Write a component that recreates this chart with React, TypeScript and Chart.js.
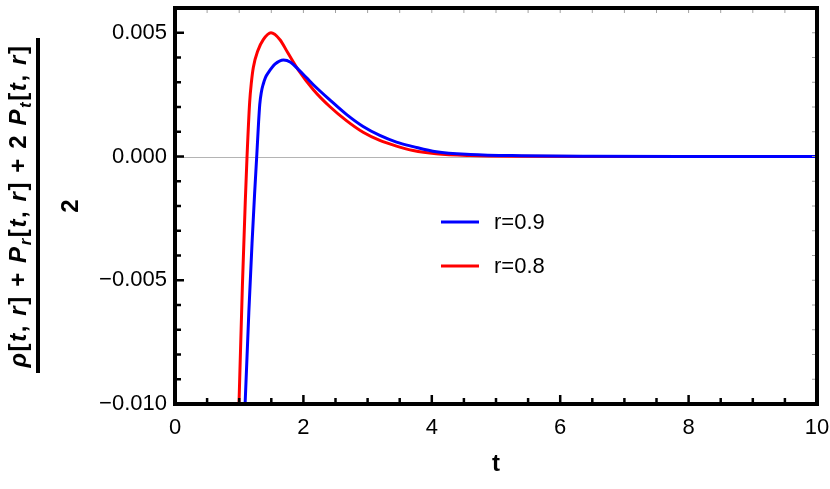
import React, { useEffect, useRef } from 'react';
import { Chart, registerables } from 'chart.js';

Chart.register(...registerables);

// ---- data ----
const seriesLabels = ['r=0.9', 'r=0.8'];
const seriesColors = ['#0000ff', '#ff0000'];

const tBlue = [1.055, 1.095, 1.15, 1.2, 1.24, 1.275, 1.3, 1.32, 1.345, 1.375, 1.41, 1.454, 1.557, 1.69, 1.8, 1.92, 2.05, 2.155, 2.41, 2.67, 2.93, 3.19, 3.45, 3.71, 4.07, 4.6, 5.4, 6.5, 8, 10];
const vBlue = [-0.0125, -0.0098, -0.0063, -0.0035, -0.0015, 0.0001, 0.0013, 0.0021, 0.0026, 0.00293, 0.0032, 0.00339, 0.00373, 0.0039, 0.00381, 0.00352, 0.00318, 0.0029, 0.00229, 0.0017, 0.00121, 0.00085, 0.00058, 0.0004, 0.00019, 0.00008, 0.00003, 0.00001, 0.000002, 0];

const tRed = [0.97, 1.0, 1.05, 1.095, 1.122, 1.163, 1.19, 1.22, 1.29, 1.375, 1.495, 1.635, 1.755, 1.92, 2.155, 2.41, 2.67, 2.93, 3.19, 3.45, 3.71, 4.07, 4.6, 5.4, 6.5, 8, 10];
const vRed = [-0.0125, -0.0097, -0.0052, -0.0018, 0, 0.0022, 0.003, 0.0036, 0.00427, 0.00472, 0.005, 0.00472, 0.0042, 0.0035, 0.0027, 0.00202, 0.00145, 0.00098, 0.00065, 0.00042, 0.00024, 0.00011, 0.00004, 0.00001, 0.000003, 0.0000005, 0];

const xTicks = [0, 2, 4, 6, 8, 10];
const yTicks = [-0.01, -0.005, 0, 0.005];
const X_MIN = 0, X_MAX = 10, Y_MIN = -0.01, Y_MAX = 0.006;
const X_MINOR = 0.5, Y_MINOR = 0.001;

const FONT = "'Liberation Sans', Arial, sans-serif";

const toPoints = (ts: number[], vs: number[]) => ts.map((t, i) => ({ x: t, y: vs[i] }));

const framePlugin = {
  id: 'mmaFrame',
  beforeDatasetsDraw(chart: any) {
    const { ctx, chartArea: a, scales } = chart;
    const y0 = Math.round(scales.y.getPixelForValue(0)) + 0.5;
    ctx.save();
    ctx.strokeStyle = '#b4b4b4';
    ctx.lineWidth = 1;
    ctx.beginPath();
    ctx.moveTo(a.left, y0);
    ctx.lineTo(a.right, y0);
    ctx.stroke();
    ctx.restore();
  },
  afterDatasetsDraw(chart: any) {
    const { ctx, chartArea: a, scales } = chart;
    const sx = scales.x, sy = scales.y;
    ctx.save();
    ctx.lineCap = 'butt';
    // bottom & top ticks
    const nX = Math.round((X_MAX - X_MIN) / X_MINOR);
    for (let i = 0; i <= nX; i++) {
      const v = X_MIN + i * X_MINOR;
      const px = sx.getPixelForValue(v);
      const major = xTicks.some((m) => Math.abs(m - v) < 1e-9);
      ctx.strokeStyle = '#000';
      ctx.lineWidth = 2.5;
      ctx.beginPath();
      ctx.moveTo(px, a.bottom);
      ctx.lineTo(px, a.bottom - (major ? 9 : 6));
      ctx.stroke();
      ctx.strokeStyle = '#a0a0a0';
      ctx.lineWidth = 1;
      ctx.beginPath();
      ctx.moveTo(px, a.top);
      ctx.lineTo(px, a.top + 5);
      ctx.stroke();
    }
    // left & right ticks
    const nY = Math.round((Y_MAX - Y_MIN) / Y_MINOR);
    for (let i = 0; i <= nY; i++) {
      const v = Y_MIN + i * Y_MINOR;
      const py = sy.getPixelForValue(v);
      const major = yTicks.some((m) => Math.abs(m - v) < 1e-9);
      ctx.strokeStyle = '#000';
      ctx.lineWidth = 2.5;
      ctx.beginPath();
      ctx.moveTo(a.left, py);
      ctx.lineTo(a.left + (major ? 9 : 6), py);
      ctx.stroke();
      ctx.strokeStyle = '#a0a0a0';
      ctx.lineWidth = 1;
      ctx.beginPath();
      ctx.moveTo(a.right, py);
      ctx.lineTo(a.right - 5, py);
      ctx.stroke();
    }
    // frame
    ctx.strokeStyle = '#000';
    ctx.lineWidth = 4;
    ctx.strokeRect(a.left, a.top, a.right - a.left, a.bottom - a.top);

    // legend
    const lx = 441, ly = 222, gap = 44;
    chart.data.datasets.forEach((ds: any, i: number) => {
      const yy = ly + i * gap;
      ctx.strokeStyle = ds.borderColor;
      ctx.lineWidth = 3;
      ctx.beginPath();
      ctx.moveTo(lx, yy);
      ctx.lineTo(lx + 38, yy);
      ctx.stroke();
      ctx.fillStyle = '#000';
      ctx.font = `22px ${FONT}`;
      ctx.textBaseline = 'middle';
      ctx.textAlign = 'left';
      ctx.fillText(ds.label, lx + 53, yy + 1);
    });
    ctx.restore();
  },
};

export default function App() {
  const ref = useRef<HTMLCanvasElement | null>(null);

  useEffect(() => {
    const canvas = ref.current;
    if (!canvas) return;
    const chart = new Chart(canvas, {
      type: 'line',
      data: {
        datasets: [
          {
            label: seriesLabels[0],
            data: toPoints(tBlue, vBlue),
            borderColor: seriesColors[0],
            borderWidth: 3,
            pointRadius: 0,
            fill: false,
            cubicInterpolationMode: 'monotone',
          },
          {
            label: seriesLabels[1],
            data: toPoints(tRed, vRed),
            borderColor: seriesColors[1],
            borderWidth: 3,
            pointRadius: 0,
            fill: false,
            cubicInterpolationMode: 'monotone',
          },
        ],
      },
      options: {
        animation: false,
        responsive: false,
        maintainAspectRatio: false,
        devicePixelRatio: 1,
        layout: { padding: { top: 8, right: 13, left: 0, bottom: 0 } },
        plugins: {
          legend: { display: false },
          tooltip: { enabled: false },
        },
        scales: {
          x: {
            type: 'linear',
            min: X_MIN,
            max: X_MAX,
            grid: { display: false, drawTicks: false },
            border: { display: false },
            afterBuildTicks: (s: any) => {
              s.ticks = xTicks.map((v) => ({ value: v }));
            },
            afterFit: (s: any) => {
              s.height = 85;
              s.paddingLeft = 0;
              s.paddingRight = 0;
            },
            ticks: {
              color: '#000',
              padding: 11,
              maxRotation: 0,
              autoSkip: false,
              font: { family: FONT, size: 22 },
              callback: (v: any) => String(v),
            },
            title: {
              display: true,
              text: 't',
              color: '#000',
              font: { family: FONT, size: 24, weight: 'bold' },
              padding: { top: 0, bottom: 10 },
            },
          },
          y: {
            type: 'linear',
            min: Y_MIN,
            max: Y_MAX,
            grid: { display: false, drawTicks: false },
            border: { display: false },
            afterBuildTicks: (s: any) => {
              s.ticks = yTicks.map((v) => ({ value: v }));
            },
            afterFit: (s: any) => {
              s.width = 175;
              s.paddingTop = 0;
              s.paddingBottom = 0;
            },
            ticks: {
              color: '#000',
              padding: 8,
              autoSkip: false,
              font: { family: FONT, size: 22 },
              callback: (v: any) => (v < 0 ? '\u2212' : '') + Math.abs(Number(v)).toFixed(3),
            },
          },
        },
      },
      plugins: [framePlugin],
    } as any);
    return () => chart.destroy();
  }, []);

  const it = { fontStyle: 'italic' } as const;
  const sub = { fontSize: '0.7em', verticalAlign: '-0.28em', lineHeight: 0 } as const;

  return (
    <div style={{ position: 'fixed', left: 0, top: 0, width: 830, height: 489, background: '#fff', overflow: 'hidden' }}>
      <canvas ref={ref} width={830} height={489} style={{ position: 'absolute', left: 0, top: 0, width: 830, height: 489 }} />
      <div
        style={{
          position: 'absolute',
          left: 40 - 180,
          top: 205.5 - 40,
          width: 360,
          height: 80,
          transform: 'rotate(-90deg)',
          transformOrigin: '50% 50%',
          fontFamily: FONT,
          fontWeight: 'bold',
          color: '#000',
        }}
      >
        <div
          style={{
            position: 'absolute',
            left: 0,
            top: 0,
            width: 360,
            height: 35,
            lineHeight: '35px',
            fontSize: 24,
            textAlign: 'center',
            whiteSpace: 'pre',
            letterSpacing: '1.6px',
          }}
        >
          <span style={it}>ρ</span>[<span style={it}>t</span>, <span style={it}>r</span>] + <span style={it}>P</span>
          <span style={sub}><span style={it}>r</span></span>[<span style={it}>t</span>, <span style={it}>r</span>] + 2 <span style={it}>P</span>
          <span style={sub}><span style={it}>t</span></span>[<span style={it}>t</span>, <span style={it}>r</span>]
        </div>
        <div style={{ position: 'absolute', left: 12.5, top: 36, width: 335, height: 4, background: '#000' }} />
        <div
          style={{
            position: 'absolute',
            left: 0,
            top: 57,
            width: 360,
            height: 26,
            lineHeight: '26px',
            fontSize: 24,
            textAlign: 'center',
          }}
        >
          2
        </div>
      </div>
    </div>
  );
}
